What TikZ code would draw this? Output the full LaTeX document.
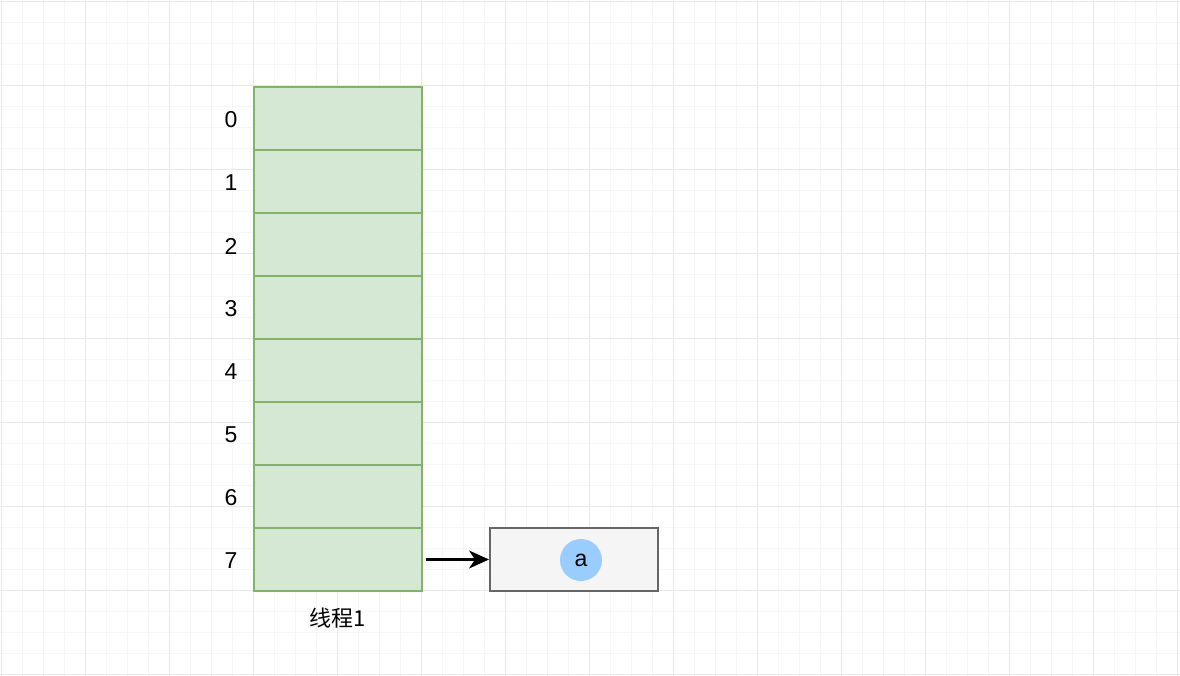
\documentclass[tikz,border=0pt]{standalone}
\usepackage{fontspec}
\setmainfont{Liberation Sans}
\newfontfamily\cjk{Noto Sans CJK SC}
\usetikzlibrary{arrows.meta}
\definecolor{gridminor}{HTML}{F6F6F6}
\definecolor{gridmajor}{HTML}{E8E8E8}
\definecolor{cellfill}{HTML}{D5E8D4}
\definecolor{cellline}{HTML}{82B366}
\definecolor{boxfill}{HTML}{F5F5F5}
\definecolor{boxline}{HTML}{666666}
\definecolor{dotfill}{HTML}{99CCFF}
\tikzset{
  cell/.style={draw=cellline, fill=cellfill, line width=2pt, minimum width=168pt, minimum height=63pt, inner sep=0pt, anchor=north west},
  idx/.style={font=\fontsize{23}{25}\selectfont, inner sep=0pt},
  heapbox/.style={draw=boxline, fill=boxfill, line width=2pt, minimum width=168pt, minimum height=63pt, inner sep=0pt, anchor=north west},
  objdot/.style={circle, fill=dotfill, minimum size=42pt, inner sep=0pt, font=\fontsize{23}{25}\selectfont},
  ptr/.style={-{Stealth[length=20pt,width=18pt,inset=6pt]}, line width=2.2pt, black}
}
\begin{document}
\begin{tikzpicture}[x=1pt,y=-1pt]
\useasboundingbox (0,0) rectangle (1180,676);
% background grid
\fill[white] (0,0) rectangle (1180,676);
\foreach \i in {0,...,56} {
  \draw[gridminor, line width=1pt] ({1+21*\i},0) -- ({1+21*\i},676);
}
\foreach \j in {0,...,32} {
  \draw[gridminor, line width=1pt] (0,{2+21*\j}) -- (1180,{2+21*\j});
}
\foreach \i in {0,...,14} {
  \draw[gridmajor, line width=1pt] ({1+84*\i},0) -- ({1+84*\i},676);
}
\foreach \j in {0,...,8} {
  \draw[gridmajor, line width=1pt] (0,{2+84*\j}) -- (1180,{2+84*\j});
}
% thread-local slots
\foreach \k in {0,...,7} {
  \node[cell] (c\k) at (253,{86+63*\k}) {};
  \node[idx] (l\k) at (231,{120+63*\k}) {\k};
}
\node[font=\cjk\fontsize{22}{24}\selectfont, inner sep=0pt] (t1) at (338,618) {线程1\vphantom{程}};
% referenced object
\node[heapbox] (h) at (489,527) {};
\node[objdot] (a) at (581,560) {a};
\draw[ptr] ([xshift=3pt]c7.east) -- (h.west);
\end{tikzpicture}
\end{document}
